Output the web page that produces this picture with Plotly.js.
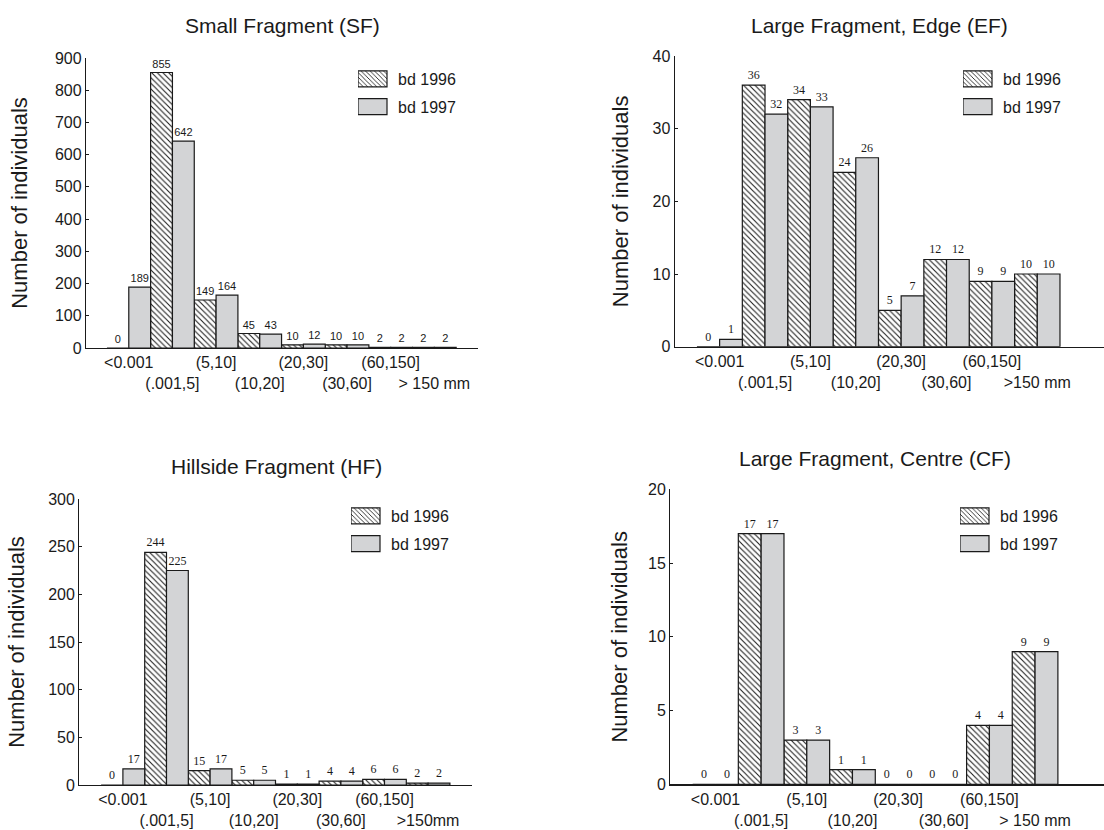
<!DOCTYPE html>
<html>
<head>
<meta charset="utf-8">
<script src="https://cdn.plot.ly/plotly-3.0.1.min.js"></script>
<style>
  html, body { margin: 0; padding: 0; background: #fff; }
  #chart { width: 1104px; height: 830px; }
</style>
</head>
<body>
<div id="chart"></div>
<script>
// ---- data ----
const categories = ["<0.001", "(.001,5]", "(5,10]", "(10,20]", "(20,30]", "(30,60]", "(60,150]", ">150"];

const sfLabels = ["<0.001", "(.001,5]", "(5,10]", "(10,20]", "(20,30]", "(30,60]", "(60,150]", "> 150 mm"];
const efLabels = ["<0.001", "(.001,5]", "(5,10]", "(10,20]", "(20,30]", "(30,60]", "(60,150]", ">150 mm"];
const hfLabels = ["<0.001", "(.001,5]", "(5,10]", "(10,20]", "(20,30]", "(30,60]", "(60,150]", ">150mm"];
const cfLabels = ["<0.001", "(.001,5]", "(5,10]", "(10,20]", "(20,30]", "(30,60]", "(60,150]", "> 150 mm"];

const sf1996 = [0, 855, 149, 45, 10, 10, 2, 2];
const sf1997 = [189, 642, 164, 43, 12, 10, 2, 2];
const ef1996 = [0, 36, 34, 24, 5, 12, 9, 10];
const ef1997 = [1, 32, 33, 26, 7, 12, 9, 10];
const hf1996 = [0, 244, 15, 5, 1, 4, 6, 2];
const hf1997 = [17, 225, 17, 5, 1, 4, 6, 2];
const cf1996 = [0, 17, 3, 1, 0, 0, 4, 9];
const cf1997 = [0, 17, 3, 1, 0, 0, 4, 9];

const titles = ["Small Fragment (SF)", "Large Fragment, Edge (EF)", "Hillside Fragment (HF)", "Large Fragment, Centre (CF)"];
const seriesNames = ["bd 1996", "bd 1997"];
const yTitle = "Number of individuals";

// ---- styling helpers ----
const W = 1104, H = 830;
const px = v => v / W;
const py = v => 1 - v / H;
const INK = '#1a1a1a';
const GRAY = '#d3d4d6';
const SANS = 'Liberation Sans, Arial, sans-serif';
const SERIF = 'Liberation Serif, Times New Roman, serif';

// stagger tick labels onto two rows
function stagger(labels) {
  return labels.map((t, i) => i % 2 === 1 ? '\u00a0<br>' + t : t);
}

const panels = [
  {d1: sf1996, d2: sf1997, labels: sfLabels, ymax: 900, dtick: 100, valFont: SANS, valSize: 11,
   xd: [px(86), px(478)], yd: [py(348), py(58)], xr: [-0.98, 8.0], legXY: [358, 62], standoff: 21},
  {d1: ef1996, d2: ef1997, labels: efLabels, ymax: 40, dtick: 10, valFont: SERIF, valSize: 12,
   xd: [px(674.7), 1], yd: [py(346.7), py(56)], xr: [-0.99, 8.47], legXY: [963, 62], standoff: 17},
  {d1: hf1996, d2: hf1997, labels: hfLabels, ymax: 300, dtick: 50, valFont: SERIF, valSize: 12,
   xd: [px(79.3), px(471.7)], yd: [py(785), py(499)], xr: [-1.0, 8.0], legXY: [351, 499], standoff: 17},
  {d1: cf1996, d2: cf1997, labels: cfLabels, ymax: 20, dtick: 5, valFont: SERIF, valSize: 12,
   xd: [px(670.3), 1], yd: [py(784.3), py(489.3)], xr: [-0.99, 8.51], legXY: [960, 499], standoff: 14}
];

const data = [];
const layout = {
  width: W, height: H,
  margin: {l: 0, r: 0, t: 0, b: 0},
  paper_bgcolor: '#fff', plot_bgcolor: '#fff',
  barmode: 'group', bargap: 0, bargroupgap: 0,
  font: {family: SANS, color: INK, size: 16},
  showlegend: true,
  annotations: []
};

const titlePos = [[282, 25], [879.5, 25], [276, 466.7], [875.3, 458]];

panels.forEach((p, i) => {
  const n = i + 1;
  const xa = n === 1 ? 'x' : 'x' + n;
  const ya = n === 1 ? 'y' : 'y' + n;
  const lg = n === 1 ? 'legend' : 'legend' + n;
  const xvals = categories.map((c, k) => k);
  [p.d1, p.d2].forEach((vals, s) => {
    data.push({
      type: 'bar',
      name: seriesNames[s],
      legendgroup: 'g' + n + '_' + s,
      x: xvals, y: vals,
      xaxis: xa, yaxis: ya, legend: lg,
      text: vals.map(String),
      textposition: 'outside',
      cliponaxis: false,
      constraintext: 'none',
      textfont: {family: p.valFont, size: p.valSize, color: INK},
      marker: s === 0 ? {
        color: '#ffffff',
        pattern: {shape: '\\', fgcolor: '#222222', bgcolor: '#ffffff', size: 4, solidity: 0.28},
        line: {color: INK, width: 1.2}
      } : {
        color: GRAY,
        line: {color: INK, width: 1.2}
      },
      hoverinfo: 'skip'
    });
  });
  layout['xaxis' + (n === 1 ? '' : n)] = {
    domain: p.xd, range: p.xr, anchor: ya,
    showline: true, linecolor: INK, linewidth: 1.2,
    ticks: '', showgrid: false, zeroline: false, tickangle: 0,
    tickmode: 'array', tickvals: categories.map((c, k) => k), ticktext: stagger(p.labels),
    tickfont: {size: 16, family: SANS, color: INK},
    fixedrange: true
  };
  layout['yaxis' + (n === 1 ? '' : n)] = {
    domain: p.yd, range: [0, p.ymax], anchor: xa,
    showline: true, linecolor: INK, linewidth: 1.2,
    ticks: 'inside', ticklen: 3, tickcolor: INK, tickwidth: 1,
    dtick: p.dtick, tick0: 0, showgrid: false, zeroline: false,
    tickfont: {size: 16, family: SANS, color: INK},
    title: {text: yTitle, font: {size: 22, family: SANS, color: INK}, standoff: p.standoff},
    fixedrange: true
  };
  layout[lg] = {
    x: px(p.legXY[0]), y: py(p.legXY[1]), xanchor: 'left', yanchor: 'top',
    bgcolor: 'rgba(0,0,0,0)', borderwidth: 0,
    font: {size: 16, family: SANS, color: INK},
    itemwidth: 30, tracegroupgap: 4
  };
  layout.annotations.push({
    xref: 'paper', yref: 'paper', x: px(titlePos[i][0]), y: py(titlePos[i][1]),
    xanchor: 'center', yanchor: 'middle', showarrow: false,
    text: titles[i], font: {size: 21, family: SANS, color: INK}
  });
});

function widenLegendSymbols() {
  document.querySelectorAll('.legendpoints path').forEach(el => {
    el.setAttribute('d', 'M-20,-8H9V8H-20Z');
  });
}

Plotly.newPlot('chart', data, layout, {staticPlot: true, displayModeBar: false}).then(gd => {
  widenLegendSymbols();
  gd.on('plotly_afterplot', widenLegendSymbols);
});
</script>
</body>
</html>
